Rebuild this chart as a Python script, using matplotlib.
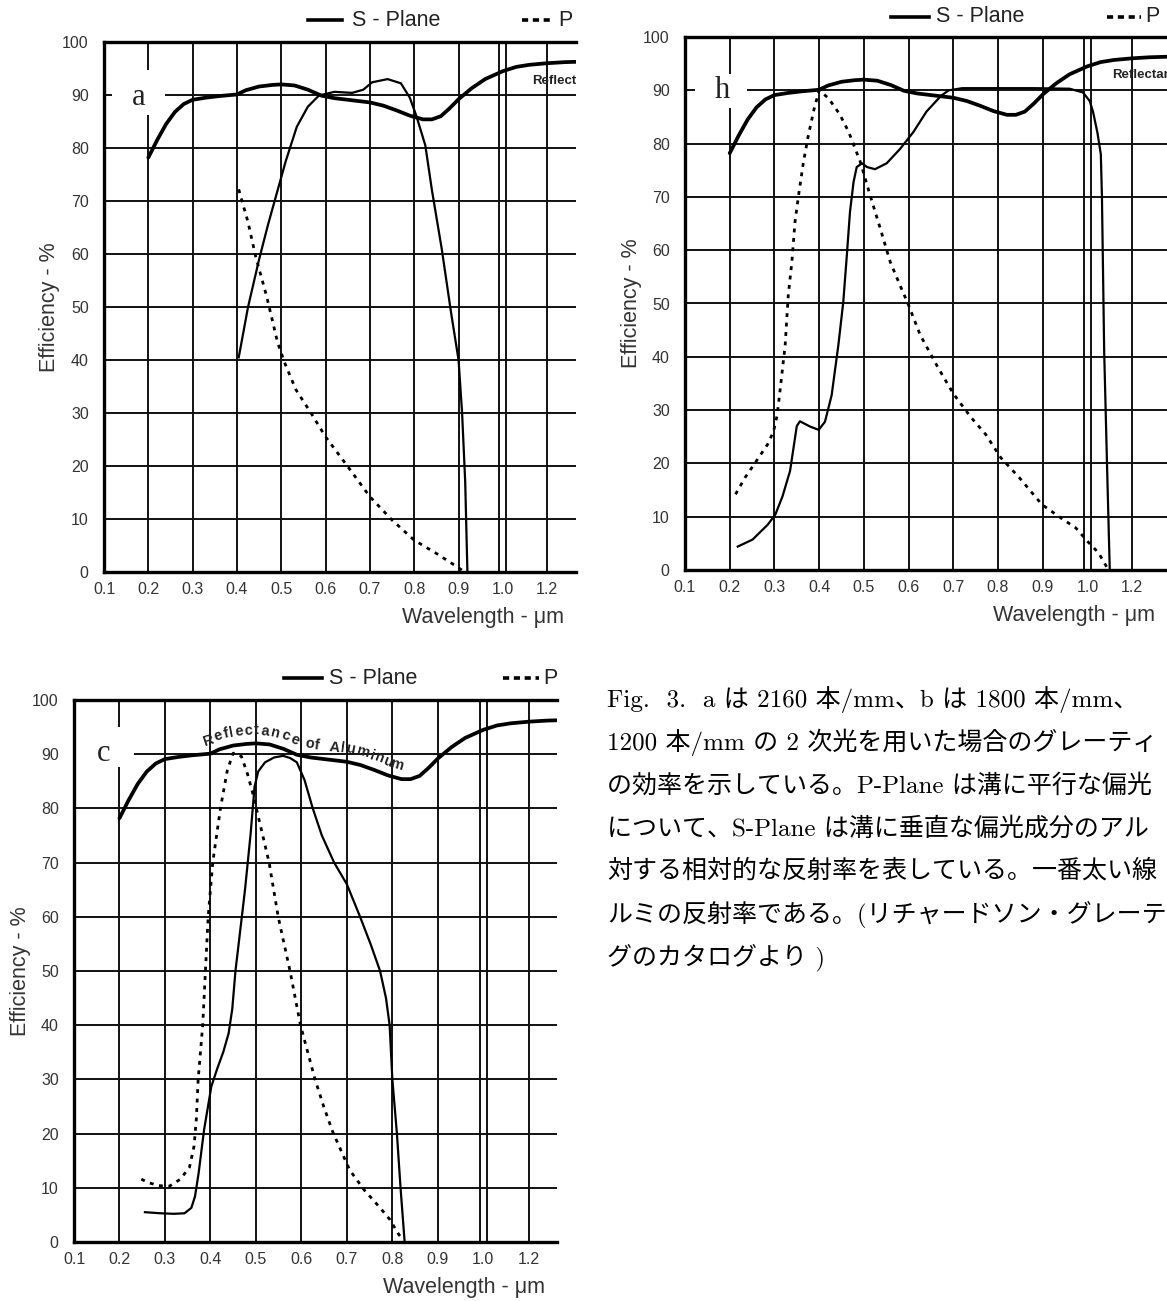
import numpy as np
import matplotlib
matplotlib.use("Agg")
import matplotlib.pyplot as plt
from matplotlib.patches import Rectangle
from matplotlib.lines import Line2D
from matplotlib.transforms import Bbox, TransformedBbox

# ---- data ----
# Reflectance of aluminum (thick line, same in all three panels)
AL_WL = [0.20, 0.22, 0.24, 0.26, 0.28, 0.30, 0.33, 0.36, 0.40, 0.42, 0.45, 0.48, 0.50,
         0.53, 0.56, 0.59, 0.62, 0.66, 0.70, 0.73, 0.76, 0.79, 0.82, 0.84, 0.86, 0.88,
         0.90, 0.93, 0.96, 1.00, 1.06, 1.12, 1.20, 1.28, 1.36]
AL_EFF = [78.2, 81.5, 84.5, 86.8, 88.3, 89.1, 89.5, 89.8, 90.1, 90.9, 91.6, 91.9, 92.0,
          91.8, 91.0, 89.9, 89.4, 89.0, 88.6, 88.0, 87.1, 86.1, 85.4, 85.4, 86.0, 87.5,
          89.2, 91.3, 93.0, 94.5, 95.3, 95.7, 96.0, 96.2, 96.3]

# a : 2160 g/mm
A_S_WL = [0.404, 0.425, 0.45, 0.47, 0.49, 0.51, 0.535, 0.56, 0.585, 0.62, 0.66, 0.685,
          0.705, 0.74, 0.77, 0.79, 0.805, 0.825, 0.84, 0.862, 0.883, 0.90, 0.908, 0.915, 0.92]
A_S_EFF = [40.5, 50, 59, 65.5, 71.5, 77.5, 84, 87.8, 89.9, 90.6, 90.4, 91, 92.4, 93, 92.2,
           89.5, 86, 80.5, 72, 61, 49, 40, 30, 17, 0]
A_P_WL = [0.404, 0.425, 0.442, 0.467, 0.492, 0.508, 0.533, 0.567, 0.60, 0.65, 0.70, 0.75,
          0.80, 0.85, 0.90, 0.91]
A_P_EFF = [72.2, 66, 59.6, 52, 43.2, 39.4, 34.4, 30, 25.5, 19.9, 14.2, 9.8, 6, 3.5, 0.8, 0.2]

# b : 1800 g/mm
B_S_WL = [0.218, 0.251, 0.285, 0.302, 0.318, 0.335, 0.35, 0.357, 0.38, 0.399, 0.413, 0.428,
          0.443, 0.454, 0.462, 0.469, 0.477, 0.484, 0.496, 0.507, 0.525, 0.551, 0.581, 0.611,
          0.64, 0.673, 0.69, 0.72, 0.80, 0.88, 0.96, 0.99, 1.01, 1.025, 1.045, 1.06, 1.065,
          1.075, 1.09, 1.10]
B_S_EFF = [4.4, 5.7, 8.5, 10.4, 13.8, 18.6, 27.0, 27.9, 26.9, 26.3, 27.8, 32.8, 42.2, 50.3,
           59.1, 67.2, 72.8, 75.6, 76.3, 75.6, 75.2, 76.3, 79, 82.2, 86, 89, 90, 90.4, 90.4,
           90.4, 90.3, 89.6, 88, 86, 82, 78, 70, 41, 16, 0]
B_P_WL = [0.213, 0.234, 0.26, 0.285, 0.298, 0.306, 0.313, 0.324, 0.331, 0.339, 0.346, 0.354,
          0.365, 0.376, 0.389, 0.40, 0.421, 0.446, 0.466, 0.492, 0.514, 0.537, 0.559, 0.581,
          0.60, 0.626, 0.667, 0.70, 0.739, 0.772, 0.806, 0.848, 0.898, 0.94, 0.974, 1.0,
          1.05, 1.09]
B_P_EFF = [14.2, 17.3, 20.5, 23.6, 26.0, 29.0, 34, 42.2, 51.6, 57.8, 65.3, 70.3, 76.6, 81.6,
           86.6, 90, 88.5, 85.5, 82.2, 76.6, 70.3, 64, 57.8, 53.4, 49.7, 44.1, 37.8, 33.1,
           28.7, 25.5, 21.1, 17.3, 12.3, 9.8, 7.9, 5.4, 3.2, 0.3]

# c : 1200 g/mm, 2nd order
C_S_WL = [0.256, 0.29, 0.32, 0.343, 0.358, 0.366, 0.374, 0.386, 0.402, 0.415, 0.428, 0.44,
          0.448, 0.455, 0.462, 0.469, 0.476, 0.482, 0.488, 0.493, 0.497, 0.505, 0.52, 0.54,
          0.56, 0.575, 0.59, 0.607, 0.625, 0.645, 0.672, 0.70, 0.729, 0.752, 0.773, 0.786,
          0.794, 0.80, 0.81, 0.818, 0.827]
C_S_EFF = [5.5, 5.3, 5.2, 5.3, 6.3, 8.4, 12.7, 20.7, 28.7, 32, 35, 38.5, 43, 50, 55, 60,
           65, 70, 75, 80, 84, 86.8, 88.5, 89.4, 89.7, 89.3, 88.5, 85.2, 80, 75, 70, 66,
           60, 55, 50, 45, 40, 30, 20, 10, 0]
C_P_WL = [0.248, 0.262, 0.286, 0.31, 0.334, 0.354, 0.364, 0.369, 0.373, 0.383, 0.389, 0.395,
          0.405, 0.422, 0.437, 0.45, 0.468, 0.481, 0.493, 0.501, 0.529, 0.549, 0.575, 0.598,
          0.63, 0.649, 0.669, 0.706, 0.738, 0.77, 0.794, 0.814, 0.82]
C_P_EFF = [11.6, 11, 10.4, 10.3, 11.6, 13.8, 17.7, 22.7, 30, 40, 50, 60, 70, 80, 87, 90.2,
           89.6, 86.5, 82.8, 80, 70, 60, 50, 40, 30, 25, 20.3, 13.3, 9.6, 6.6, 4.2, 1.4, 0.8]

X_TICKS = [0.1, 0.2, 0.3, 0.4, 0.5, 0.6, 0.7, 0.8, 0.9, 1.0, 1.2]
X_TICKLABELS = ["0.1", "0.2", "0.3", "0.4", "0.5", "0.6", "0.7", "0.8", "0.9", "1.0", "1.2"]
Y_TICKS = list(range(0, 101, 10))

CAPTION = [
    "Fig.  3.  a は 2160 本/mm、b は 1800 本/mm、",
    "1200 本/mm の 2 次光を用いた場合のグレーティ",
    "の効率を示している。P-Plane は溝に平行な偏光",
    "について、S-Plane は溝に垂直な偏光成分のアル",
    "対する相対的な反射率を表している。一番太い線",
    "ルミの反射率である。(リチャードソン・グレーテ",
    "グのカタログより )",
]

W, H = 1167, 1301
SANS = "Liberation Sans"
GRAY = "#333333"
INK = "#111111"

fig = plt.figure(figsize=(W / 100, H / 100), dpi=100)


def fwd(w):
    w = np.asarray(w, dtype=float)
    return np.where(w <= 1.0, w, 1.0 + (w - 1.0) / 2.0)


def inv(u):
    u = np.asarray(u, dtype=float)
    return np.where(u <= 1.0, u, 1.0 + (u - 1.0) * 2.0)


def px_rect(l, t, r, b):
    return [l / W, 1 - b / H, (r - l) / W, (b - t) / H]


def arc_text(ax, text, xs, ys, start, offset, gap, **kw):
    # letters laid along the aluminum curve (display coords)
    renderer = fig.canvas.get_renderer()
    pts = ax.transData.transform(np.column_stack([xs, ys]))
    seg = np.hypot(np.diff(pts[:, 0]), np.diff(pts[:, 1]))
    s = np.concatenate([[0], np.cumsum(seg)])
    p0 = ax.transData.transform((start, 0))[0]
    cur = np.interp(p0, pts[:, 0], s)
    for ch in text:
        if ch == " ":
            cur += gap
            continue
        t = ax.text(0, 0, ch, ha="center", va="center", rotation_mode="anchor", **kw)
        w = t.get_window_extent(renderer).width
        mid = cur + w / 2
        x = np.interp(mid, s, pts[:, 0])
        y = np.interp(mid, s, pts[:, 1])
        xa, ya = np.interp(mid - 8, s, pts[:, 0]), np.interp(mid - 8, s, pts[:, 1])
        xb, yb = np.interp(mid + 8, s, pts[:, 0]), np.interp(mid + 8, s, pts[:, 1])
        dx, dy = xb - xa, yb - ya
        n = np.hypot(dx, dy)
        X, Y = x - dy / n * offset, y + dx / n * offset
        t.set_position(ax.transData.inverted().transform((X, Y)))
        t.set_rotation(np.degrees(np.arctan2(dy, dx)))
        cur += w + 0.6


def draw_panel(rect, xmax, s_wl, s_eff, p_wl, p_eff, letter, letter_xy, box, refl, legend):
    l, t, r, b = rect
    ax = fig.add_axes(px_rect(l, t, r, b))
    ax.set_xscale("function", functions=(fwd, inv))
    ax.set_xlim(0.1, xmax)
    ax.set_ylim(0, 100)

    for x in [0.2, 0.3, 0.4, 0.5, 0.6, 0.7, 0.8, 0.9, 0.992, 1.016, 1.2, 1.4]:
        ax.axvline(x, color=INK, lw=1.4, zorder=1)
    for y in range(10, 100, 10):
        ax.axhline(y, color=INK, lw=1.4, zorder=1)

    # white patch behind the panel letter
    ax.add_patch(Rectangle((box[0], box[1]), box[2] - box[0], box[3] - box[1],
                           facecolor="white", edgecolor="none", zorder=1.5))
    ax.text(letter_xy[0], letter_xy[1], letter, family="Liberation Serif", fontsize=22,
            ha="center", va="center", color="#222222", zorder=4)

    ax.plot(AL_WL, AL_EFF, color="black", lw=2.7, solid_capstyle="round",
            solid_joinstyle="round", zorder=3)
    ax.plot(s_wl, s_eff, color="black", lw=1.6, solid_joinstyle="round", zorder=3)
    ax.plot(p_wl, p_eff, color="black", lw=2.0, linestyle=(0, (1.4, 2.0)), zorder=3)

    if refl is not None:
        # only the start of the label shows before the crop
        ax.text(refl[0], refl[1], "Reflectance", family=SANS, fontsize=9.5,
                fontweight="bold", ha="left", va="center", color="#222222",
                clip_on=True, zorder=4)

    for side in ["top", "left", "bottom"]:
        ax.spines[side].set_linewidth(2.4)
        ax.spines[side].set_color("black")
    ax.spines["right"].set_visible(False)

    ax.set_xticks(X_TICKS)
    ax.set_xticklabels(X_TICKLABELS)
    ax.xaxis.set_minor_locator(matplotlib.ticker.NullLocator())
    ax.set_yticks(Y_TICKS)
    ax.tick_params(length=0, labelsize=11.5, labelcolor=GRAY)
    ax.tick_params(axis="x", pad=7)
    ax.tick_params(axis="y", pad=11)
    for lab in ax.get_xticklabels() + ax.get_yticklabels():
        lab.set_family(SANS)

    ax.set_xlabel("Wavelength - μm", family=SANS, fontsize=15.5, color=GRAY,
                  ha="right", va="center")
    ax.xaxis.set_label_coords(1 - 12 / (r - l), -46 / (b - t))
    ax.set_ylabel("Efficiency - %", family=SANS, fontsize=15.5, color=GRAY,
                  va="center", ha="center")
    ax.yaxis.set_label_coords(-54 / (r - l), 0.5)

    # legend strip above the panel, cut by the crop on the right
    x0, x1, tx, d0, d1, px, ly = legend
    fy = 1 - ly / H
    fig.add_artist(Line2D([x0 / W, x1 / W], [fy, fy], color="black", lw=2.6))
    fig.text(tx / W, fy, "S - Plane", family=SANS, fontsize=15.5, color="#222222",
             ha="left", va="center")
    fig.add_artist(Line2D([d0 / W, d1 / W], [fy, fy], color="black", lw=2.6,
                          linestyle=(0, (1.7, 1.3))))
    ptxt = fig.text(px / W, fy, "P", family=SANS, fontsize=15.5, color="#222222",
                    ha="left", va="center")
    ptxt.set_clip_box(TransformedBbox(Bbox([[0, 0], [r / W, 1]]), fig.transFigure))
    ptxt.set_clip_on(True)
    return ax


draw_panel((104, 42, 576, 572), 1.33, A_S_WL, A_S_EFF, A_P_WL, A_P_EFF,
           "a", (0.179, 89.6), (0.118, 86.2, 0.238, 94.7), (1.13, 92.6),
           (308, 342, 352, 522, 554, 558, 20))
draw_panel((685, 37, 1167, 570), 1.356, B_S_WL, B_S_EFF, B_P_WL, B_P_EFF,
           "h", (0.183, 89.9), (0.122, 86.6, 0.238, 93.1), (1.11, 92.8),
           (891, 929, 936, 1107, 1141, 1145, 17))
ax_c = draw_panel((74, 700, 557, 1242), 1.324, C_S_WL, C_S_EFF, C_P_WL, C_P_EFF,
                  "c", (0.166, 90.2), (0.1, 87.6, 0.232, 95.0), None,
                  (284, 322, 329, 503, 539, 543, 678))
arc_text(ax_c, "Reflectance of Aluminum", AL_WL, AL_EFF, 0.395, 13, 10,
         family=SANS, fontsize=10.5, fontweight="bold", color="#222222", zorder=4)

for i, line in enumerate(CAPTION):
    fig.text(607 / W, 1 - (700 + 42.8 * i) / H, line, fontsize=18,
             family=["cmr10", "Noto Sans CJK JP"], ha="left", va="center", color="black")

fig.savefig("out.png", dpi=100)
